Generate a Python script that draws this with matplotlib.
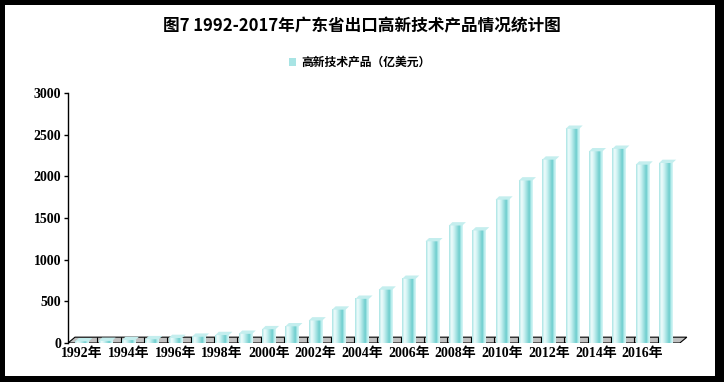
import numpy as np
import matplotlib
matplotlib.use('Agg')
import matplotlib.pyplot as plt
from matplotlib.patches import Rectangle, Polygon
from matplotlib.colors import LinearSegmentedColormap

# data (亿美元)
years = list(range(1992, 2018))
values = [20, 25, 35, 45, 60, 75, 95, 110, 165, 200, 270, 400, 530, 640, 770,
          1220, 1410, 1350, 1720, 1950, 2200, 2570, 2300, 2330, 2140, 2160]
tick_labels = [f'{y}年' for y in years]
title = '图7 1992-2017年广东省出口高新技术产品情况统计图'
series_name = '高新技术产品（亿美元）'

cjk = ['Noto Sans CJK SC', 'DejaVu Sans']
num = ['Liberation Serif', 'Noto Sans CJK SC']

fig = plt.figure(figsize=(7.24, 3.82), dpi=100, facecolor='black')
# white sheet inside the black frame
fig.add_artist(Rectangle((5/724, 6/382), 710/724, 371/382, transform=fig.transFigure,
                         facecolor='white', edgecolor='none', zorder=-5))

ax = fig.add_axes([68/724, 39/382, 620/724, 250/382])
ax.set_facecolor('none')

# bar shading: cylinder look, light edges, white highlight, dark stripe
cyl = LinearSegmentedColormap.from_list('cyl', [
    (0.0, '#a8e4e4'), (0.18, '#f0fcfc'), (0.35, '#d0f3f3'), (0.6, '#93dcdc'),
    (0.75, '#6ccdcd'), (0.88, '#b8eded'), (1.0, '#d9f6f6')])
grad = np.linspace(0, 1, 64).reshape(1, -1)

w = 0.58
dx, dh = 0.3, 70   # depth offset of the fake 3d floor
xs = np.arange(len(years))

# floor
x0, x1 = -0.6, len(years) - 0.4
ax.add_patch(Polygon([(x0, 0), (x1, 0), (x1 + dx, dh), (x0 + dx, dh)],
                     closed=True, facecolor='#c0c0c0', edgecolor='black', lw=0.8, zorder=1))
ax.vlines(xs[:-1] + 0.5 + dx * 0.5, 0, dh, color='black', lw=0.8, zorder=1.5)

for i, v in zip(xs, values):
    ax.imshow(grad, cmap=cyl, extent=(i - w/2, i + w/2, 0, v), aspect='auto', zorder=2)
    ax.add_patch(Polygon([(i - w/2, v), (i - w/2 + 0.15, v + 40), (i + w/2 + 0.15, v + 40), (i + w/2, v)],
                         closed=True, facecolor='#c4eeee', edgecolor='none', zorder=2.5))

ax.set_xlim(x0, x1 + dx + 0.05)
ax.set_ylim(0, 3000)
ax.set_yticks(range(0, 3001, 500))
ax.set_xticks(xs[::2])
ax.set_xticklabels(tick_labels[::2])

for s in ['top', 'right', 'bottom']:
    ax.spines[s].set_visible(False)
ax.spines['left'].set_linewidth(1.0)
ax.tick_params(axis='x', length=0, pad=3)
ax.tick_params(axis='y', length=3, width=1, pad=2, direction='out')
for lab in ax.get_xticklabels() + ax.get_yticklabels():
    lab.set_family(num)
    lab.set_fontweight('bold')
    lab.set_fontsize(10)

fig.text(0.5, 1 - 26/382, title, ha='center', va='center', family=cjk,
         fontsize=12, fontweight='bold')

# legend
fig.add_artist(Rectangle((289/724, 1 - 66/382), 7/724, 8/382, transform=fig.transFigure,
                         facecolor='#a8e4e4', edgecolor='none'))
fig.text(301/724, 1 - 62/382, series_name, ha='left', va='center', family=cjk,
         fontsize=8.5, fontweight='bold')

fig.savefig('out.png', dpi=100)
